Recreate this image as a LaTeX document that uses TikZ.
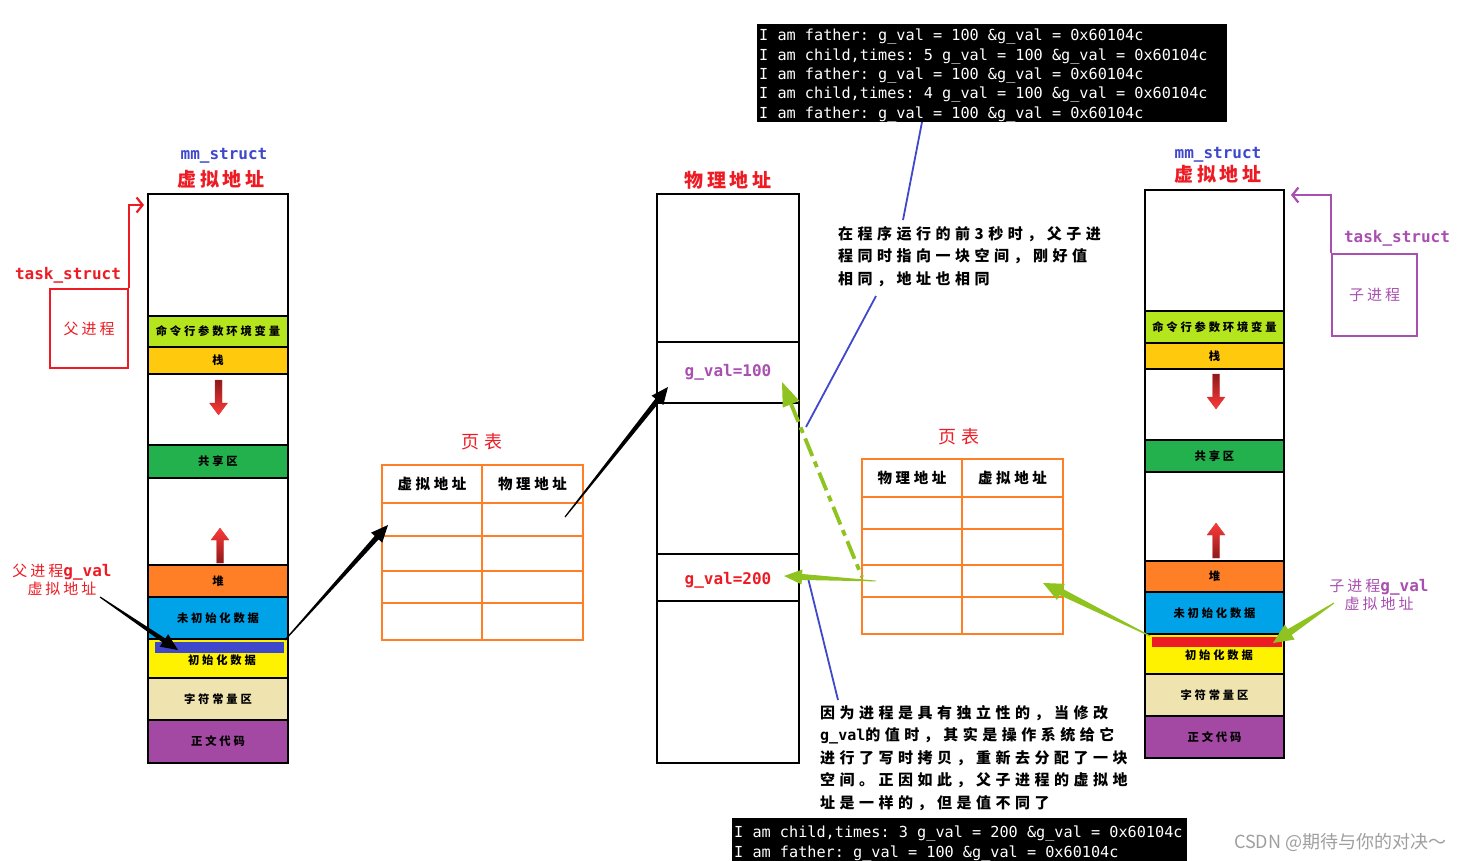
\documentclass[tikz,border=0pt]{standalone}
\usepackage{fontspec}
\usetikzlibrary{calc,arrows.meta}
\newfontfamily\cjk{Noto Sans CJK SC}
\newfontfamily\mono{DejaVu Sans Mono}
\definecolor{cLime}{HTML}{B5E61D}
\definecolor{cStack}{HTML}{FFC90E}
\definecolor{cShare}{HTML}{22B14C}
\definecolor{cHeap}{HTML}{FF7F27}
\definecolor{cBss}{HTML}{00A2E8}
\definecolor{cData}{HTML}{FFF200}
\definecolor{cRo}{HTML}{EFE4B0}
\definecolor{cText}{HTML}{A349A4}
\definecolor{cBar}{HTML}{3F48CC}
\definecolor{cRed}{HTML}{ED1C24}
\definecolor{cPurple}{HTML}{A94FB0}
\definecolor{cOrange}{HTML}{FF7F27}
\definecolor{cGreen}{HTML}{8FC31F}
\definecolor{cLine}{HTML}{3F48CC}
\definecolor{cDark}{HTML}{8B1A1A}
\definecolor{cBright}{HTML}{FF3A3A}
\newcommand\segfont{\cjk\bfseries\fontsize{11.3}{13}\selectfont\addfontfeature{LetterSpace=25}}
\newcommand\titlefont{\cjk\bfseries\fontsize{19}{22}\selectfont\addfontfeature{LetterSpace=20}}
\newcommand\ptitlefont{\cjk\fontsize{18}{20}\selectfont\addfontfeature{LetterSpace=30}}
\newcommand\headfont{\cjk\bfseries\fontsize{14.5}{17}\selectfont\addfontfeature{LetterSpace=25}}
\newcommand\notefont{\cjk\bfseries\fontsize{15}{22.5}\selectfont\addfontfeature{LetterSpace=30}}
\newcommand\labfont{\cjk\fontsize{15}{24.5}\selectfont\addfontfeature{LetterSpace=20}}
\newcommand\monobold{\mono\bfseries\fontsize{16}{18}\selectfont}
\newcommand\termfont{\mono\fontsize{15.2}{19.3}\selectfont}
\newcommand\tsp{\hbox to 0.602em{}}
\newcommand\growdown[3]{\shade[top color=cDark, bottom color=cBright, draw=cBright!85!black, line width=0.3pt] (#1-3.5,#2) -- (#1+3.5,#2) -- (#1+3.5,#3-12) -- (#1+9,#3-12) -- (#1,#3) -- (#1-9,#3-12) -- (#1-3.5,#3-12) -- cycle;}
\newcommand\growup[3]{\shade[top color=cBright, bottom color=cDark, draw=cBright!85!black, line width=0.3pt] (#1-3.5,#2) -- (#1+3.5,#2) -- (#1+3.5,#3+12) -- (#1+9,#3+12) -- (#1,#3) -- (#1-9,#3+12) -- (#1-3.5,#3+12) -- cycle;}
\newcommand\taperarrow[7]{%
  \coordinate (tab) at ($(#3)!#6!(#2)$);
  \fill[#1] ($(#2)!#4!90:(#3)$) -- ($(tab)!#5!90:(#3)$) -- ($(tab)!#7!90:(#3)$) -- (#3) -- ($(tab)!#7!-90:(#3)$) -- ($(tab)!#5!-90:(#3)$) -- ($(#2)!#4!-90:(#3)$) -- cycle;}
\newcommand\fatherline{I\tsp am\tsp father:\tsp g\_val\tsp =\tsp 100\tsp \&g\_val\tsp =\tsp 0x60104c}
\newcommand\childline[2]{I\tsp am\tsp child,times:\tsp #1\tsp g\_val\tsp =\tsp #2\tsp \&g\_val\tsp =\tsp 0x60104c}
\begin{document}
\begin{tikzpicture}[x=1pt,y=-1pt,
  seg/.style={draw=black, line width=2.2pt, minimum width=140pt, inner sep=0pt, font=\segfont},
  pseg/.style={draw=black, line width=2.2pt, minimum width=142pt, inner sep=0pt},
  cell/.style={draw=cOrange, line width=2.3pt, inner sep=0pt, minimum width=100pt, font=\headfont},
  title/.style={text=cRed, font=\titlefont, inner sep=0pt},
  ptitle/.style={text=cRed, font=\ptitlefont, inner sep=0pt},
  mmlab/.style={font=\monobold, inner sep=0pt},
  termbox/.style={fill=black, inner sep=0pt, anchor=north west},
  termtext/.style={text=white, font=\termfont, align=left, inner sep=0pt, anchor=north west},
  note/.style={font=\notefont, align=left, inner sep=0pt, anchor=north west},
  blueline/.style={draw=cLine, line width=1.8pt},
  bar/.style={inner sep=0pt, minimum height=11pt},
]
\fill[white] (0,0) rectangle (1477,861);
\useasboundingbox (0,0) rectangle (1477,861);

% ---------- left column (parent virtual address space)
\node[mmlab, text=cBar] (lmm) at (224,156) {mm\_struct};
\node[title] (ltitle) at (221,179) {虚拟地址};
\node[seg, minimum height=122pt] (ltop) at (218,255) {};
\node[seg, fill=cLime, minimum height=31pt] (lcmd) at (218,331.5) {命令行参数环境变量};
\node[seg, fill=cStack, minimum height=27pt] (lstack) at (218,360.5) {栈};
\node[seg, minimum height=71pt] (lgap1) at (218,409.5) {};
\node[seg, fill=cShare, minimum height=33pt] (lshare) at (218,461.5) {共享区};
\node[seg, minimum height=87pt] (lgap2) at (218,521.5) {};
\node[seg, fill=cHeap, minimum height=32pt] (lheap) at (218,581) {堆};
\node[seg, fill=cBss, minimum height=42pt] (lbss) at (218,618) {未初始化数据};
\node[seg, fill=cData, minimum height=39pt] (ldata) at (218,658.5) {};
\node[bar, fill=cBar, minimum width=129pt] (lbar) at (219.5,647) {};
\node[font=\segfont, inner sep=0pt] (ldatat) at (222,660) {初始化数据};
\node[seg, fill=cRo, minimum height=42pt] (lro) at (218,699) {字符常量区};
\node[seg, fill=cText, minimum height=43pt] (ltext) at (218,741.5) {正文代码};
\growdown{218.5}{380}{415}
\growup{220}{563}{528}

% parent task_struct
\node[text=cRed, font=\monobold, inner sep=0pt] (ltsl) at (68,275) {task\_struct};
\node[draw=cRed, line width=2.2pt, minimum width=78pt, minimum height=79pt, text=cRed, font=\labfont, inner sep=0pt] (lts) at (89,328.5) {父进程};
\coordinate (lptr) at (144,205);
\draw[cRed, line width=2.2pt, -{Straight Barb[length=6pt,width=15pt,line width=2.2pt]}] (lts.north east) |- (lptr);

\node[text=cRed, align=center, inner sep=0pt] (lglab) at (62,580) {{\labfont 父进程}{\monobold g\_val}\\{\labfont 虚拟地址}};

% ---------- physical memory
\node[title] (ptitle) at (728,180) {物理地址};
\node[pseg, minimum height=148pt] (p1) at (728,268) {};
\node[pseg, minimum height=61pt, text=cPurple, font=\monobold] (p2) at (728,372.5) {g\_val=100};
\node[pseg, minimum height=151pt] (p3) at (728,478.5) {};
\node[pseg, minimum height=47pt] (p4) at (728,577.5) {};
\node[text=cRed, font=\monobold, inner sep=0pt] (p4t) at (728,580) {g\_val=200};
\node[pseg, minimum height=162pt] (p5) at (728,682) {};

% ---------- page table 1
\node[ptitle] (t1title) at (482,442) {页表};
\node[cell, minimum height=38pt] (t1h1) at (432,484) {虚拟地址};
\node[cell, minimum height=38pt, minimum width=101pt] (t1h2) at (532.5,484) {物理地址};
\foreach \n/\yc/\h in {1/519.5/33, 2/553.5/35, 3/587/32, 4/621.5/37} {
  \node[cell, minimum height=\h pt] (t1-\n-1) at (432,\yc) {};
  \node[cell, minimum height=\h pt, minimum width=101pt] (t1-\n-2) at (532.5,\yc) {};
}

% ---------- page table 2
\node[ptitle] (t2title) at (959,437) {页表};
\node[cell, minimum height=38pt] (t2h1) at (912,478) {物理地址};
\node[cell, minimum height=38pt, minimum width=101pt] (t2h2) at (1012.5,478) {虚拟地址};
\foreach \n/\yc/\h in {1/513/32, 2/547/36, 3/581/32, 4/615.5/37} {
  \node[cell, minimum height=\h pt] (t2-\n-1) at (912,\yc) {};
  \node[cell, minimum height=\h pt, minimum width=101pt] (t2-\n-2) at (1012.5,\yc) {};
}

% ---------- right column (child virtual address space)
\node[mmlab, text=cBar] (rmm) at (1218,155) {mm\_struct};
\node[title] (rtitle) at (1218,174) {虚拟地址};
\node[seg, minimum height=121pt, minimum width=139pt] (rtop) at (1214.5,250.5) {};
\node[seg, fill=cLime, minimum height=32pt, minimum width=139pt] (rcmd) at (1214.5,327) {命令行参数环境变量};
\node[seg, fill=cStack, minimum height=26pt, minimum width=139pt] (rstack) at (1214.5,356) {栈};
\node[seg, minimum height=71pt, minimum width=139pt] (rgap1) at (1214.5,404.5) {};
\node[seg, fill=cShare, minimum height=32pt, minimum width=139pt] (rshare) at (1214.5,456) {共享区};
\node[seg, minimum height=89pt, minimum width=139pt] (rgap2) at (1214.5,516.5) {};
\node[seg, fill=cHeap, minimum height=31pt, minimum width=139pt] (rheap) at (1214.5,576.5) {堆};
\node[seg, fill=cBss, minimum height=42pt, minimum width=139pt] (rbss) at (1214.5,613) {未初始化数据};
\node[seg, fill=cData, minimum height=40pt, minimum width=139pt] (rdata) at (1214.5,654) {};
\node[bar, fill=cRed, minimum width=130pt, minimum height=10pt] (rbar) at (1217,642) {};
\node[font=\segfont, inner sep=0pt] (rdatat) at (1219,655) {初始化数据};
\node[seg, fill=cRo, minimum height=42pt, minimum width=139pt] (rro) at (1214.5,695) {字符常量区};
\node[seg, fill=cText, minimum height=42pt, minimum width=139pt] (rtext) at (1214.5,737) {正文代码};
\growdown{1216}{374}{409}
\growup{1216}{558}{523}

% child task_struct
\node[text=cPurple, font=\monobold, inner sep=0pt] (rtsl) at (1397,238) {task\_struct};
\node[draw=cPurple, line width=2.2pt, minimum width=85pt, minimum height=82pt, text=cPurple, font=\labfont, inner sep=0pt] (rts) at (1374.5,295) {子进程};
\coordinate (rptr) at (1291,195);
\draw[cPurple, line width=2.2pt, -{Straight Barb[length=6pt,width=15pt,line width=2.2pt]}] (rts.north west) |- (rptr);

\node[text=cPurple, align=center, inner sep=0pt] (rglab) at (1379,595) {{\labfont 子进程}{\monobold g\_val}\\{\labfont 虚拟地址}};

% ---------- terminals
\node[termbox, minimum width=470pt, minimum height=98pt] (term1) at (757,24) {};
\node[termtext] (term1t) at (759,29) {\fatherline\\\childline{5}{100}\\\fatherline\\\childline{4}{100}\\\fatherline};
\node[termbox, minimum width=455pt, minimum height=48pt] (term2) at (732,818) {};
\node[termtext] (term2t) at (734,826) {\childline{3}{200}\\\fatherline};

% ---------- notes
\node[note] (n1) at (838,226) {在程序运行的前3秒时，父子进\\程同时指向一块空间，刚好值\\相同，地址也相同};
\node[note] (n2) at (820,705) {因为进程是具有独立性的，当修改\\{\mono\bfseries\fontsize{15}{22.5}\selectfont g\_val}的值时，其实是操作系统给它\\进行了写时拷贝，重新去分配了一块\\空间。正因如此，父子进程的虚拟地\\址是一样的，但是值不同了};

\node[text=gray!75, font=\cjk\fontsize{18}{20}\selectfont, anchor=west, inner sep=0pt] (wm) at (1234,842) {CSDN @期待与你的对决～};

% ---------- blue pointer lines
\coordinate (b1s) at (922,122); \coordinate (b1e) at (903,220);
\coordinate (b2s) at (876,296); \coordinate (b2e) at (806,427);
\coordinate (b3s) at (808,578); \coordinate (b3e) at (838,700);
\draw[blueline] (b1s) -- (b1e);
\draw[blueline] (b2s) -- (b2e);
\draw[blueline] (b3s) -- (b3e);

% ---------- black arrows
\coordinate (a1s) at (100,597); \coordinate (a1e) at (178,650);
\coordinate (a2s) at (285,640); \coordinate (a2e) at (388,525);
\coordinate (a3s) at (565,517); \coordinate (a3e) at (668,387);
\taperarrow{black}{a1s}{a1e}{0.6pt}{2.4pt}{17pt}{7.5pt}
\taperarrow{black}{a2s}{a2e}{0.6pt}{2.6pt}{17pt}{7.5pt}
\taperarrow{black}{a3s}{a3e}{0.6pt}{2.6pt}{17pt}{7.5pt}

% ---------- green arrows
\coordinate (g1s) at (862,577); \coordinate (g1e) at (782,382);
\coordinate (g1b) at ($(g1e)!24pt!(g1s)$);
\draw[cGreen, line width=3.8pt, dash pattern=on 19pt off 6pt on 6pt off 6pt] (g1b) -- (g1s);
\fill[cGreen] ($(g1b)!9pt!90:(g1e)$) -- (g1e) -- ($(g1b)!9pt!-90:(g1e)$) -- cycle;
\coordinate (g2s) at (876,581); \coordinate (g2e) at (784,576);
\taperarrow{cGreen}{g2s}{g2e}{0.4pt}{3pt}{18pt}{7.5pt}
\coordinate (g3s) at (1150,636); \coordinate (g3e) at (1043,583);
\taperarrow{cGreen}{g3s}{g3e}{0.5pt}{3.5pt}{20pt}{9pt}
\coordinate (g4s) at (1334,603); \coordinate (g4e) at (1273,643);
\taperarrow{cGreen}{g4s}{g4e}{0.5pt}{3.5pt}{20pt}{9pt}
\end{tikzpicture}
\end{document}
